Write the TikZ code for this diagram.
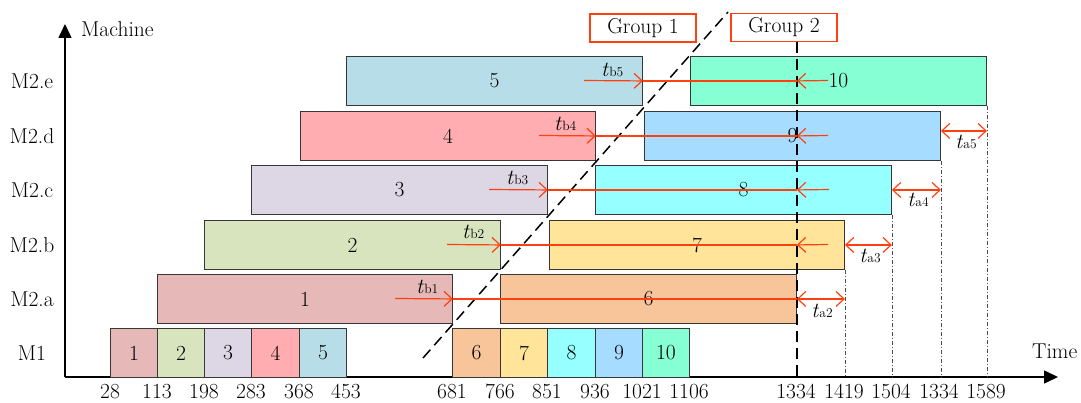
\documentclass[tikz,border=0pt]{standalone}
\usepackage{fontspec}
\usetikzlibrary{arrows.meta}

% job colours
\definecolor{j1}{RGB}{230,185,184}
\definecolor{j2}{RGB}{216,228,189}
\definecolor{j3}{RGB}{221,215,229}
\definecolor{j4}{RGB}{255,173,177}
\definecolor{j5}{RGB}{183,222,232}
\definecolor{j6}{RGB}{248,197,155}
\definecolor{j7}{RGB}{255,228,153}
\definecolor{j8}{RGB}{150,255,255}
\definecolor{j9}{RGB}{165,220,255}
\definecolor{j10}{RGB}{134,255,212}
\definecolor{accent}{RGB}{255,64,16}
\definecolor{edge}{RGB}{55,55,55}

% time label: italic t followed by a small upright index
\newcommand{\tlab}[1]{\textit{t}\kern0.3pt{\fontsize{13.5}{15}\selectfont #1}}

\begin{document}
\begin{tikzpicture}[x=1pt,y=-1pt,
  every node/.style={font=\fontsize{21.5}{25}\selectfont},
  job/.style={draw=edge, line width=0.9pt, inner sep=0pt, anchor=north west, minimum height=49pt},
  axis/.style={line width=1.5pt, -{Triangle[length=14pt,width=13pt]}},
  flow/.style={draw=accent, line width=1.2pt, -{Straight Barb[length=8pt,width=15pt]}},
  joinline/.style={draw=accent, line width=1.2pt},
  span/.style={draw=accent, line width=1.2pt, {Straight Barb[length=8pt,width=15pt]}-{Straight Barb[length=8pt,width=15pt]}},
  guide/.style={draw=black!70, line width=0.6pt, dash pattern=on 4pt off 2pt on 1pt off 2pt},
  cut/.style={line width=1.5pt, dash pattern=on 11pt off 6pt},
  groupbox/.style={draw=accent, line width=1.5pt, minimum width=106pt, minimum height=28pt, inner sep=0pt},
  lbl/.style={inner sep=0pt, anchor=base west},
  tick/.style={inner sep=0pt, anchor=base}
]
\useasboundingbox (0,0) rectangle (1081,403);

% axes
\coordinate (O) at (65,377);
\coordinate (ytip) at (65,24);
\coordinate (xtip) at (1058,377);
\draw[axis] (O) -- (ytip);
\draw[axis] (O) -- (xtip);
\node[lbl] (machine) at (81,37) {Machine};
\node[lbl] (time) at (1032,358) {Time};

% machine names
\node (re) at (32,81) {M2.e};
\node (rd) at (32,136) {M2.d};
\node (rc) at (32,190) {M2.c};
\node (rb) at (32,245) {M2.b};
\node (ra) at (32,299) {M2.a};
\node (rm) at (32,353) {M1};

% stage M1
\node[job, fill=j1,  minimum width=47pt] (p1)  at (110,328) {1};
\node[job, fill=j2,  minimum width=47pt] (p2)  at (157,328) {2};
\node[job, fill=j3,  minimum width=47pt] (p3)  at (204,328) {3};
\node[job, fill=j4,  minimum width=48pt] (p4)  at (251,328) {4};
\node[job, fill=j5,  minimum width=47pt] (p5)  at (299,328) {5};
\node[job, fill=j6,  minimum width=48pt] (p6)  at (452,328) {6};
\node[job, fill=j7,  minimum width=47pt] (p7)  at (500,328) {7};
\node[job, fill=j8,  minimum width=48pt] (p8)  at (547,328) {8};
\node[job, fill=j9,  minimum width=47pt] (p9)  at (595,328) {9};
\node[job, fill=j10, minimum width=47pt] (p10) at (642,328) {10};

% stage M2, parallel machines
\node[job, fill=j1,  minimum width=295pt] (q1)  at (157,274) {1};
\node[job, fill=j2,  minimum width=296pt] (q2)  at (204,220) {2};
\node[job, fill=j3,  minimum width=296pt] (q3)  at (251,165) {3};
\node[job, fill=j4,  minimum width=295pt] (q4)  at (300,111) {4};
\node[job, fill=j5,  minimum width=296pt] (q5)  at (346,56)  {5};
\node[job, fill=j6,  minimum width=296pt] (q6)  at (500,274) {6};
\node[job, fill=j7,  minimum width=295pt] (q7)  at (549,220) {7};
\node[job, fill=j8,  minimum width=296pt] (q8)  at (595,165) {8};
\node[job, fill=j9,  minimum width=296pt] (q9)  at (644,111) {9};
\node[job, fill=j10, minimum width=296pt] (q10) at (690,56)  {10};

% completion guides
\draw[guide] (q7.south east)  -- (q7.south east |- O);
\draw[guide] (q8.south east)  -- (q8.south east |- O);
\draw[guide] (q9.south east)  -- (q9.south east |- O);
\draw[guide] (q10.south east) -- (q10.south east |- O);

% group labels and split lines
\node[groupbox] (g1) at (643,28) {Group 1};
\node[groupbox] (g2) at (784,27.5) {Group 2};
\coordinate (d1) at (423,358);
\coordinate (d2) at (728,12);
\draw[cut] (d1) -- (d2);
\draw[cut] (q6.east |- g2.south) -- (q6.east |- O);

% idle time before the split
\coordinate (s5) at (584,80.5);
\coordinate (s4) at (539,135.5);
\coordinate (s3) at (489,189.5);
\coordinate (s2) at (447,244.5);
\coordinate (s1) at (395,298.5);
\coordinate (c5) at (q6.east |- q5.east);
\coordinate (c4) at (q6.east |- q4.east);
\coordinate (c3) at (q6.east |- q3.east);
\coordinate (c2) at (q6.east |- q2.east);
\coordinate (e5) at (828,80.5);
\coordinate (e4) at (828,135.5);
\coordinate (e3) at (829,189.5);
\coordinate (e2) at (828,244.5);

\draw[flow] (s5) -- (q5.east);
\draw[joinline] (q5.east) -- (c5);
\draw[flow] (e5) -- (c5);
\draw[flow] (s4) -- (q4.east);
\draw[joinline] (q4.east) -- (c4);
\draw[flow] (e4) -- (c4);
\draw[flow] (s3) -- (q3.east);
\draw[joinline] (q3.east) -- (c3);
\draw[flow] (e3) -- (c3);
\draw[flow] (s2) -- (q2.east);
\draw[joinline] (q2.east) -- (c2);
\draw[flow] (e2) -- (c2);
\draw[flow] (s1) -- (q1.east);
\draw[joinline] (q1.east) -- (q6.east);

\node[lbl] (tb5) at (601,77)  {\tlab{b5}};
\node[lbl] (tb4) at (554,131) {\tlab{b4}};
\node[lbl] (tb3) at (506,185) {\tlab{b3}};
\node[lbl] (tb2) at (462,239) {\tlab{b2}};
\node[lbl] (tb1) at (416,294) {\tlab{b1}};

% tail times after the split
\coordinate (r5) at ([yshift=5pt]q9.east);
\draw[span] (q6.east) -- (q7.east |- q6.east);
\draw[span] (q7.east) -- (q8.east |- q7.east);
\draw[span] (q8.east) -- (q9.east |- q8.east);
\draw[span] (r5) -- (q10.east |- r5);

\node[tick] (ta2) at (822,317) {\tlab{a2}};
\node[tick] (ta3) at (870,262) {\tlab{a3}};
\node[tick] (ta4) at (918,207) {\tlab{a4}};
\node[tick] (ta5) at (966,149) {\tlab{a5}};

% time scale
\node[tick] (k1)  at (110,398) {28};
\node[tick] (k2)  at (157,398) {113};
\node[tick] (k3)  at (204,398) {198};
\node[tick] (k4)  at (251,398) {283};
\node[tick] (k5)  at (299,398) {368};
\node[tick] (k6)  at (346,398) {453};
\node[tick] (k7)  at (452,398) {681};
\node[tick] (k8)  at (500,398) {766};
\node[tick] (k9)  at (547,398) {851};
\node[tick] (k10) at (595,398) {936};
\node[tick] (k11) at (642,398) {1021};
\node[tick] (k12) at (689,398) {1106};
\node[tick] (k13) at (796,398) {1334};
\node[tick] (k14) at (844,398) {1419};
\node[tick] (k15) at (891,398) {1504};
\node[tick] (k16) at (939,398) {1334};
\node[tick] (k17) at (986,398) {1589};
\end{tikzpicture}
\end{document}
